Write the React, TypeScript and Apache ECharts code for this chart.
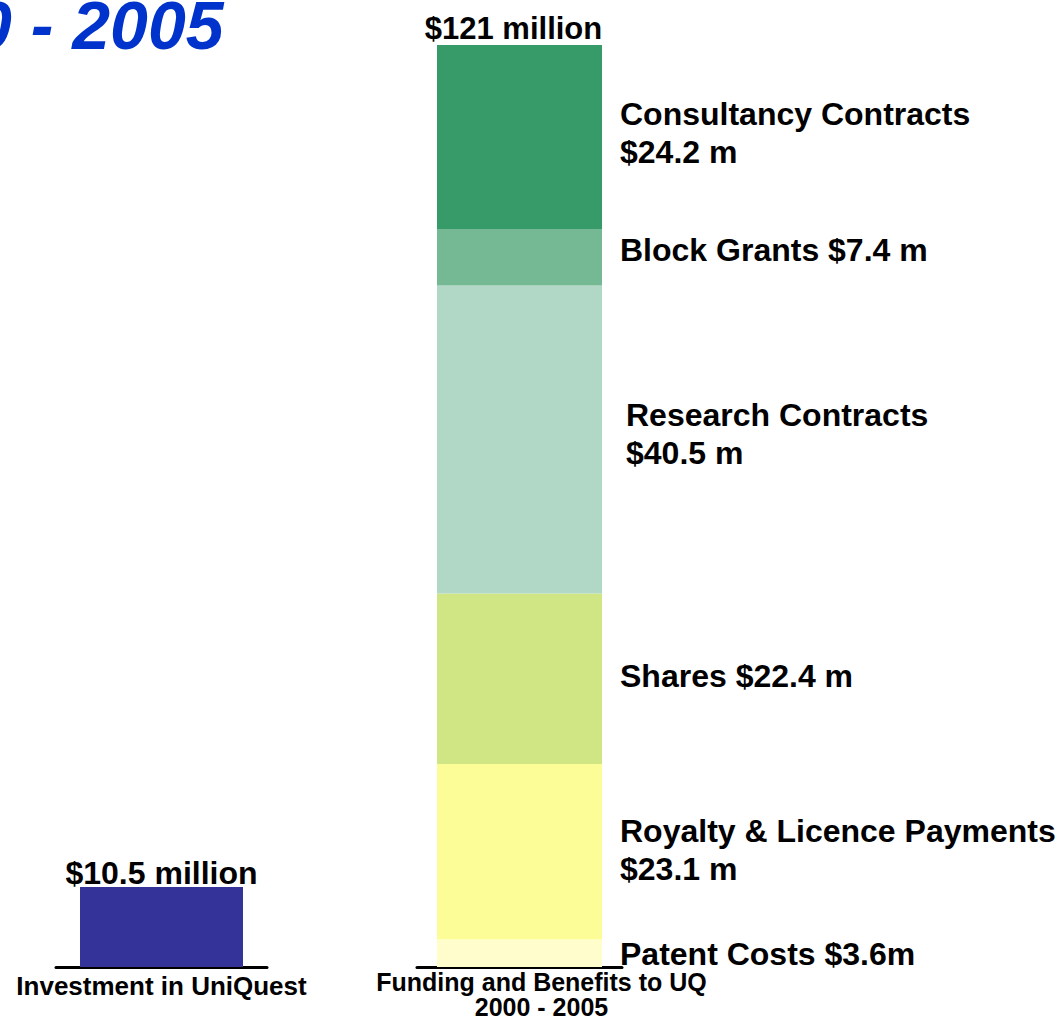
import React, { useEffect, useRef } from "react";
import * as echarts from "echarts";

const titleText = "0 - 2005";
const categories = ["Investment in UniQuest", "Funding and Benefits to UQ\n2000 - 2005"];
const investment = [10.5];
const investmentLabel = "$10.5 million";
const segmentNames = [
  "Patent Costs",
  "Royalty & Licence Payments",
  "Shares",
  "Research Contracts",
  "Block Grants",
  "Consultancy Contracts",
];
const segmentValues = [3.6, 23.1, 22.4, 40.5, 7.4, 24.2];
const segmentLabels = [
  "Patent Costs $3.6m",
  "Royalty & Licence Payments\n$23.1 m",
  "Shares $22.4 m",
  "Research Contracts\n$40.5 m",
  "Block Grants $7.4 m",
  "Consultancy Contracts\n$24.2 m",
];
const totalLabel = "$121 million";

const segmentColors = ["#FEFDCB", "#FDFD98", "#D0E584", "#B1D7C6", "#74B894", "#379A69"];
const labelOffsets = [1, -2, -3, -5, -7, -4];
const labelDistances = [18, 18, 18, 24, 18, 18];

export default function App() {
  const ref = useRef<HTMLDivElement>(null);
  useEffect(() => {
    if (!ref.current) return;
    const chart = echarts.init(ref.current, null, { renderer: "svg" });
    const total = segmentValues.reduce((a, b) => a + b, 0);
    const font = "Liberation Sans";
    const option: any = {
      animation: false,
      backgroundColor: "#ffffff",
      textStyle: { fontFamily: font },
      graphic: [
        {
          type: "text",
          x: -26,
          y: 25,
          z: 10,
          style: {
            text: titleText,
            font: "italic bold 68px 'Liberation Sans'",
            fill: "#0033CC",
            verticalAlign: "middle",
            align: "left",
          },
        },
      ],
      grid: [
        { left: 56, width: 211, top: 45, bottom: 52 },
        { left: 417, width: 205, top: 45, bottom: 52 },
      ],
      xAxis: [
        {
          type: "category",
          gridIndex: 0,
          data: [categories[0]],
          axisLine: { show: true, lineStyle: { color: "#000", width: 3 } },
          axisTick: { show: false },
          axisLabel: {
            fontSize: 26,
            fontWeight: "bold",
            color: "#000",
            lineHeight: 25,
            margin: 6,
            fontFamily: font,
          },
        },
        {
          type: "category",
          gridIndex: 1,
          data: [categories[1]],
          axisLine: { show: true, lineStyle: { color: "#000", width: 3 } },
          axisTick: { show: false },
          axisLabel: {
            fontSize: 25,
            fontWeight: "bold",
            color: "#000",
            lineHeight: 25,
            margin: 2,
            padding: [0, 0, 0, 44],
            fontFamily: font,
          },
        },
      ],
      yAxis: [
        { type: "value", gridIndex: 0, min: 0, max: total, show: false, splitLine: { show: false } },
        { type: "value", gridIndex: 1, min: 0, max: total, show: false, splitLine: { show: false } },
      ],
      series: [
        {
          type: "bar",
          name: categories[0],
          xAxisIndex: 0,
          yAxisIndex: 0,
          data: investment,
          barWidth: 163,
          itemStyle: { color: "#333399" },
          label: {
            show: true,
            position: "top",
            distance: 0,
            offset: [0, 2],
            formatter: investmentLabel,
            fontSize: 32,
            fontWeight: "bold",
            color: "#000",
            fontFamily: font,
          },
        },
        ...segmentValues.map((v, i) => ({
          type: "bar",
          name: segmentNames[i],
          xAxisIndex: 1,
          yAxisIndex: 1,
          stack: "uq",
          barWidth: 165,
          data: [v],
          itemStyle: { color: segmentColors[i] },
          label: {
            show: true,
            position: "right",
            distance: labelDistances[i],
            offset: [0, labelOffsets[i]],
            formatter: segmentLabels[i],
            fontSize: 32,
            lineHeight: 38,
            fontWeight: "bold",
            color: "#000",
            align: "left",
            fontFamily: font,
          },
        })),
        {
          type: "scatter",
          name: "Total",
          xAxisIndex: 1,
          yAxisIndex: 1,
          data: [total],
          symbolSize: 1,
          itemStyle: { color: "rgba(0,0,0,0)", opacity: 1 },
          label: {
            show: true,
            position: "top",
            distance: 1,
            offset: [-6, 0],
            formatter: totalLabel,
            fontSize: 31,
            fontWeight: "bold",
            color: "#000",
            opacity: 1,
            fontFamily: font,
          },
        },
      ],
    };
    chart.setOption(option);
    return () => chart.dispose();
  }, []);
  return (
    <div
      ref={ref}
      style={{ position: "absolute", left: 0, top: 0, width: 1058, height: 1019 }}
    />
  );
}
